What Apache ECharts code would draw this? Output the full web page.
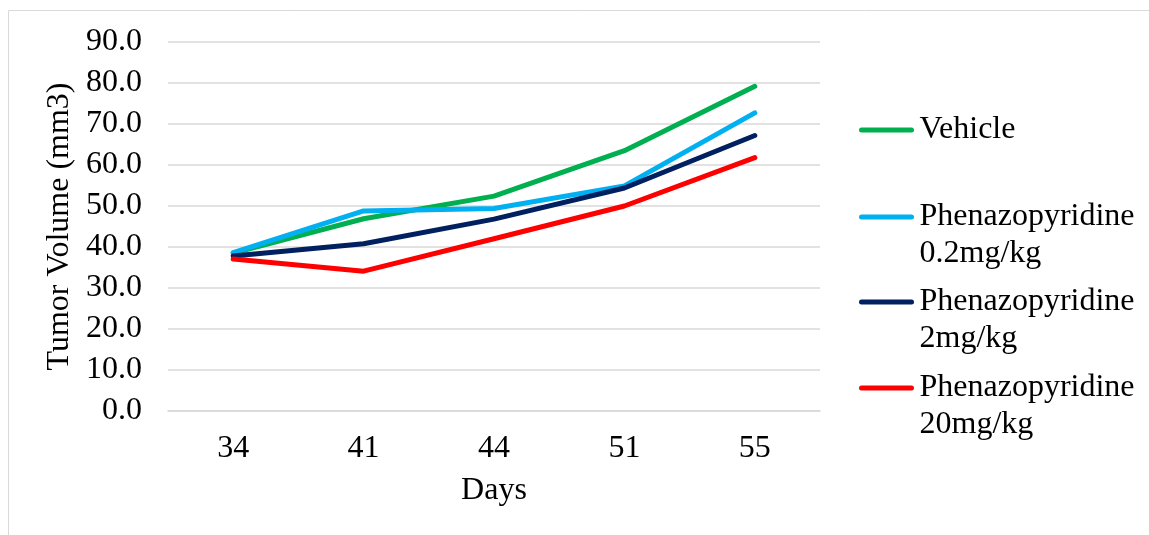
<!DOCTYPE html>
<html>
<head>
<meta charset="utf-8">
<style>
  html, body { margin: 0; padding: 0; background: #ffffff; }
  #chart { width: 1149px; height: 535px; }
</style>
<script src="https://cdn.jsdelivr.net/npm/echarts@6/dist/echarts.min.js"></script>
</head>
<body>
<div id="chart"></div>
<script>
// Tumor volume over time per treatment group
const days = ['34', '41', '44', '51', '55'];
const seriesNames = [
  'Vehicle',
  'Phenazopyridine 0.2mg/kg',
  'Phenazopyridine 2mg/kg',
  'Phenazopyridine 20mg/kg'
];
const vehicle = [38.5, 46.9, 52.4, 63.5, 79.2];
const phen02 = [38.6, 48.8, 49.4, 54.9, 72.7];
const phen2 = [37.8, 40.8, 46.8, 54.4, 67.2];
const phen20 = [37.1, 34.1, 42.0, 50.0, 61.8];
const seriesValues = [vehicle, phen02, phen2, phen20];
const seriesColors = ['#00b050', '#00b0f0', '#002060', '#ff0000'];

const FONT = '"Liberation Serif", "Times New Roman", serif';
const FS = 32;
const LH = 37;

// Capsule-shaped swatch: a thick line segment with rounded ends
const SWATCH = 'path://M2.5,0 H52.5 A2.5,2.5 0 0 1 52.5,5 H2.5 A2.5,2.5 0 0 1 2.5,0 Z';

const chart = echarts.init(document.getElementById('chart'), null, { renderer: 'canvas' });

// One legend block per group so each entry can sit at its own height;
// two-line names get a leading blank line so the swatch lines up with the first line.
const legendTops = [111.5, 161.5, 246.5, 332.5];
const legends = seriesNames.map((name, i) => ({
  data: [{ name: name, icon: SWATCH }],
  orient: 'vertical',
  left: 859,
  top: legendTops[i],
  padding: 0,
  itemWidth: 56,
  itemHeight: 5,
  selectedMode: false,
  formatter: n => n.indexOf(' ') >= 0 ? '\n' + n.replace(' ', '\n') : n,
  textStyle: { fontFamily: FONT, fontSize: FS, lineHeight: LH, color: '#000000' }
}));

chart.setOption({
  animation: false,
  backgroundColor: '#ffffff',
  graphic: [{
    type: 'rect',
    shape: { x: 8.5, y: 10.5, width: 1200, height: 600 },
    style: { fill: 'none', stroke: '#d9d9d9', lineWidth: 1 },
    silent: true,
    z: -10
  }],
  legend: legends,
  grid: { left: 168, right: 329, top: 42, bottom: 124, containLabel: false },
  xAxis: {
    type: 'category',
    data: days,
    boundaryGap: true,
    axisLine: { show: true, lineStyle: { color: '#d9d9d9', width: 1.5 } },
    axisTick: { show: false },
    axisLabel: { fontFamily: FONT, fontSize: FS, color: '#000000', margin: 22 },
    name: 'Days',
    nameLocation: 'middle',
    nameGap: 64,
    nameTextStyle: { fontFamily: FONT, fontSize: FS, color: '#000000' }
  },
  yAxis: {
    type: 'value',
    min: 0,
    max: 90,
    interval: 10,
    axisLine: { show: false },
    axisTick: { show: false },
    splitLine: { show: true, lineStyle: { color: '#d9d9d9', width: 1.5 } },
    axisLabel: {
      fontFamily: FONT, fontSize: FS, color: '#000000', margin: 26,
      formatter: v => v.toFixed(1)
    },
    name: 'Tumor Volume (mm3)',
    nameLocation: 'middle',
    nameGap: 90,
    nameTextStyle: { fontFamily: FONT, fontSize: FS, color: '#000000' }
  },
  series: seriesNames.map((name, i) => ({
    name: name,
    type: 'line',
    data: seriesValues[i],
    symbol: 'none',
    showSymbol: false,
    smooth: false,
    color: seriesColors[i],
    itemStyle: { color: seriesColors[i] },
    lineStyle: { color: seriesColors[i], width: 5, cap: 'round', join: 'round' }
  }))
});
</script>
</body>
</html>
